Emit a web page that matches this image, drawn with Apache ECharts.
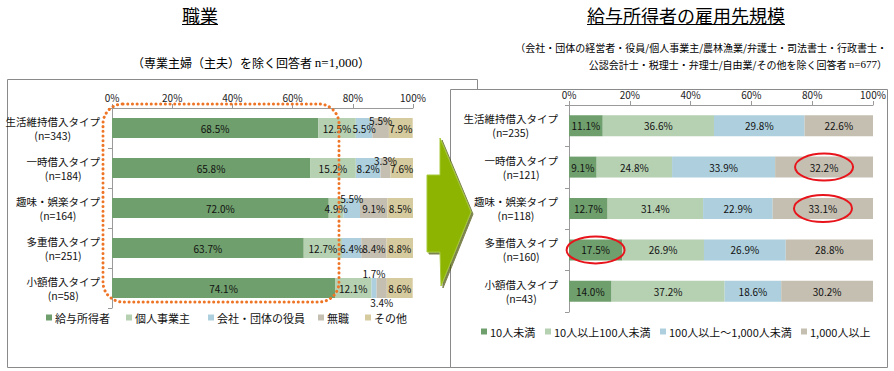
<!DOCTYPE html>
<html><head><meta charset="utf-8">
<script src="https://cdn.jsdelivr.net/npm/echarts@6/dist/echarts.min.js"></script>
<style>html,body{margin:0;padding:0;background:#fff}#c{width:894px;height:371px}</style>
</head><body><div id="c"></div>
<script>
// ---- data ----
const categories = ['生活維持借入タイプ','一時借入タイプ','趣味・娯楽タイプ','多重借入タイプ','小額借入タイプ'];
const leftN = [343,184,164,251,58];
const rightN = [235,121,118,160,43];
const tickLabels = ['0%','20%','40%','60%','80%','100%'];

const leftNames = ['給与所得者','個人事業主','会社・団体の役員','無職','その他'];
const salaried   = [68.5,65.8,72.0,63.7,74.1];
const selfEmp    = [12.5,15.2,4.9,12.7,12.1];
const officer    = [5.5,8.2,5.5,6.4,1.7];
const unemployed = [5.5,3.3,9.1,8.4,3.4];
const other      = [7.9,7.6,8.5,8.8,8.6];

const rightNames = ['10人未満','10人以上100人未満','100人以上～1,000人未満','1,000人以上'];
const under10    = [11.1,9.1,12.7,17.5,14.0];
const from10     = [36.6,24.8,31.4,26.9,37.2];
const from100    = [29.8,33.9,22.9,26.9,18.6];
const over1000   = [22.6,32.2,33.1,28.8,30.2];

// highlighted cells on the right chart: [series, row]
const highlighted = [[3,1],[3,2],[0,3]];

// ---- style / layout ----
const FONT = '"Noto Sans CJK JP", "Noto Sans", sans-serif';
const colors = ['#6f9f6c','#b6d0b2','#aed0de','#c5bfb1','#d6cb9e'];
const labelShift = {'3-0':[0,-8],'3-1':[0,-8],'2-2':[0,-10],'2-4':[0,-15],'3-4':[0,14]};

function mkSeries(name, vals, idx, grid, stack, shifts) {
  return {
    name, type:'bar', stack, xAxisIndex:grid, yAxisIndex:grid,
    barWidth: grid === 0 ? 20 : 21,
    itemStyle:{color:colors[idx]},
    label:{show:true, position:'inside', color:'#111', fontSize:10, fontFamily:FONT, textBorderWidth:0,
      formatter:p=>p.value.toFixed(1)+'%'},
    emphasis:{disabled:true},
    data: vals.map((v,i)=>{
      const s = shifts && shifts[idx+'-'+i];
      return s ? {value:v, label:{offset:s}} : v;
    })
  };
}
function catLabel(nArr){
  return (v,i)=>'{a|'+v+'}\n{b|(n='+nArr[i]+')}';
}
const axisGray = '#9a9a9a';
function xAx(grid){
  return {type:'value', gridIndex:grid, min:0, max:100, interval:20, position:'top',
    axisLine:{show:true, lineStyle:{color:axisGray}}, axisTick:{show:true, length:4, lineStyle:{color:axisGray}},
    splitLine:{show:false},
    axisLabel:{color:'#222', fontSize:10, fontFamily:FONT, margin:6, formatter:(v)=>tickLabels[v/20]}};
}
function yAx(grid, nArr, margin){
  return {type:'category', gridIndex:grid, data:categories, inverse:true,
    axisLine:{show:true, lineStyle:{color:axisGray}}, axisTick:{show:true, length:4, lineStyle:{color:axisGray}},
    axisLabel:{margin, align:'right', formatter:catLabel(nArr),
      rich:{a:{fontSize:10.5, lineHeight:14, fontFamily:FONT, color:'#111', align:'right'},
            b:{fontSize:10.5, lineHeight:14, fontFamily:FONT, color:'#111', align:'center'}}}};
}

const leftLegendX = [46,126,208,318,365];
const rightLegendX = [481,545,660,801];

const leftSeries = [salaried,selfEmp,officer,unemployed,other].map((d,i)=>mkSeries(leftNames[i], d, i, 0, 'L', labelShift));
const rightSeries = [under10,from10,from100,over1000].map((d,i)=>mkSeries(rightNames[i], d, i, 1, 'R', null));

const legends = [];
leftNames.forEach((n,i)=>legends.push({data:[n], left:leftLegendX[i], top:312, padding:0, icon:'rect', itemWidth:6, itemHeight:6, itemGap:0, selectedMode:false, textStyle:{fontSize:11, fontFamily:FONT, color:'#111', padding:[0,0,0,-2]}}));
rightNames.forEach((n,i)=>legends.push({data:[n], left:rightLegendX[i], top:326, padding:0, icon:'rect', itemWidth:6, itemHeight:6, itemGap:0, selectedMode:false, textStyle:{fontSize:11, fontFamily:FONT, color:'#111', padding:[0,0,0,-2]}}));

const chart = echarts.init(document.getElementById('c'), null, {renderer:'svg'});
const baseGraphics = [
  {type:'rect', z:-3, shape:{x:7.5,y:79.5,width:470,height:288}, style:{fill:'#fff', stroke:'#8a8a8a', lineWidth:1}},
  {type:'rect', z:-2, shape:{x:450.5,y:89.5,width:437,height:278}, style:{fill:'#fff', stroke:'#8a8a8a', lineWidth:1}},
  {type:'text', z:5, style:{text:'職業', x:200, y:15, align:'center', verticalAlign:'middle', fontSize:18, fontFamily:FONT, fill:'#000'}},
  {type:'line', z:5, shape:{x1:182,y1:24.5,x2:218,y2:24.5}, style:{stroke:'#000', lineWidth:1}},
  {type:'text', z:5, style:{text:'給与所得者の雇用先規模', x:686, y:15, align:'center', verticalAlign:'middle', fontSize:18, fontFamily:FONT, fill:'#000'}},
  {type:'line', z:5, shape:{x1:587,y1:24.5,x2:785,y2:24.5}, style:{stroke:'#000', lineWidth:1}},
  {type:'text', z:5, style:{text:'（専業主婦（主夫）を除く回答者 {s|n=1,000}）', x:251, y:62, align:'center', verticalAlign:'middle', fontSize:12, fontFamily:FONT, fill:'#000',
     rich:{s:{fontFamily:'"Liberation Serif", serif', fontSize:13, fill:'#000'}}}},
  {type:'text', z:5, style:{text:'（会社・団体の経営者・役員/個人事業主/農林漁業/弁護士・司法書士・行政書士・', x:887, y:47, align:'right', verticalAlign:'middle', fontSize:10, fontFamily:FONT, fill:'#000'}},
  {type:'text', z:5, style:{text:'公認会計士・税理士・弁理士/自由業/その他を除く回答者 {s|n=677}）', x:887, y:64, align:'right', verticalAlign:'middle', fontSize:10, fontFamily:FONT, fill:'#000',
     rich:{s:{fontFamily:'"Liberation Serif", serif', fontSize:11, fill:'#000'}}}},
  {type:'polygon', z:10, shape:{points:[[427,175],[440,175],[440,138],[471,212],[441,286],[440,252],[427,252]]},
     style:{fill:'#8cb400', stroke:'#a6c93a', lineWidth:1, shadowColor:'rgba(70,80,0,0.7)', shadowOffsetX:2, shadowOffsetY:2, shadowBlur:1}},
  {type:'rect', z:20, shape:{x:103,y:104,width:236,height:198,r:20},
     style:{fill:'none', stroke:'#ee7526', lineWidth:3, lineDash:[0.1,4.6], lineCap:'round'}}
];

chart.setOption({
  animation:false,
  textStyle:{fontFamily:FONT},
  grid:[{left:112, top:108, width:301, height:200, containLabel:false},
        {left:569, top:105, width:304, height:207, containLabel:false}],
  xAxis:[xAx(0), xAx(1)],
  yAxis:[yAx(0,leftN,12), yAx(1,rightN,11)],
  legend:legends,
  series:[...leftSeries, ...rightSeries],
  graphic:baseGraphics
});

// red ellipses around highlighted cells, positioned through the axes
const rightData = [under10,from10,from100,over1000];
const ellipses = highlighted.map(([s,r])=>{
  let start=0; for(let k=0;k<s;k++) start+=rightData[k][r];
  const mid = start + rightData[s][r]/2;
  const p = chart.convertToPixel({gridIndex:1}, [mid, r]);
  return {type:'ellipse', z:20, shape:{cx:p[0], cy:p[1], rx:29, ry:13.5}, style:{fill:'none', stroke:'#e8141c', lineWidth:2}};
});
chart.setOption({graphic:[...baseGraphics, ...ellipses]});
</script></body></html>
